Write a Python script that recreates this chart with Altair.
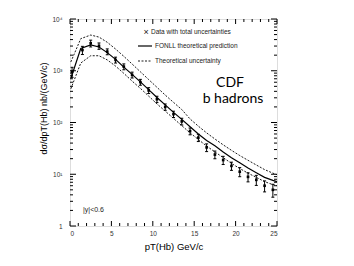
import altair as alt
import pandas as pd

# ---- data ----
pt_data = [0.25, 1.5, 2.5, 3.5, 4.5, 5.5, 6.5, 7.5, 8.5, 9.5, 10.5, 11.5, 12.5,
           13.5, 14.5, 15.5, 16.5, 17.5, 18.5, 19.5, 20.5, 21.5, 22.5, 23.5, 24.5]
xsec_data = [955, 2510, 3390, 3020, 2340, 1620, 1200, 832, 603, 417, 282, 200, 145,
             105, 68, 51, 33, 24, 18.8, 14.5, 11.2, 8.9, 7.8, 6.0, 5.0]
err_pct = [22, 18, 15, 14, 13, 13, 13, 13, 13, 13, 14, 14, 14,
           15, 15, 16, 17, 17, 18, 18, 20, 20, 22, 24, 28]

pt_theory = [0.1, 1.3, 2.5, 3.5, 4.5, 5.5, 6.5, 7.5, 8.5, 9.5, 10.5, 11.5, 12.5,
             13.5, 14.5, 15.5, 16.5, 17.5, 18.5, 19.5, 20.5, 21.5, 22.5, 23.5, 24.5, 25]
fonll = [708, 2690, 3160, 2880, 2240, 1660, 1175, 851, 610, 432, 305, 219, 157,
         115, 83, 60, 45, 35.5, 27, 20.9, 16.6, 13.2, 10.7, 8.7, 7.6, 7.2]
fonll_up = [1480, 4170, 4900, 4470, 3550, 2630, 1900, 1350, 955, 676, 479, 339, 245,
            178, 117, 85, 63, 48, 37, 29, 23, 18.6, 15.1, 12.3, 10.5, 9.8]
fonll_lo = [447, 1410, 1950, 1950, 1620, 1230, 891, 631, 457, 324, 229, 166, 120,
            87, 63, 47, 35, 27, 21, 16.2, 12.9, 10.5, 8.7, 7.2, 6.3, 6.0]

x_major = [0, 5, 10, 15, 20, 25]
x_minor = [v for v in range(0, 26) if v % 5 != 0]
y_major = [1, 10, 100, 1000, 10000]
y_minor = [m * 10 ** k for k in range(0, 4) for m in range(2, 10)]

W, H = 207, 207
FONT = "Liberation Sans"

data_df = pd.DataFrame({"pt": pt_data, "v": xsec_data, "e": err_pct})
data_df["lo"] = data_df["v"] * (1 - data_df["e"] / 100.0)
data_df["hi"] = data_df["v"] * (1 + data_df["e"] / 100.0)
theory_df = pd.DataFrame({"pt": pt_theory, "c": fonll, "u": fonll_up, "l": fonll_lo})

xscale = alt.Scale(domain=[0, 25], nice=False, zero=False)
yscale = alt.Scale(type="log", domain=[1, 10000], nice=False)

xaxis = alt.Axis(values=x_major, ticks=False, domain=False, grid=False,
                 title="pT(Hb) GeV/c", labelFont=FONT, labelFontSize=6.5,
                 labelColor="#333", labelPadding=4, titleFont=FONT,
                 titleFontSize=9.5, titleFontWeight="normal", titlePadding=5)
yaxis = alt.Axis(values=y_major, ticks=False, domain=False, grid=False,
                 labelExpr="datum.value == 1 ? '1' : datum.value == 10 ? '10¹' : datum.value == 100 ? '10²' : datum.value == 1000 ? '10³' : '10⁴'",
                 title="dσ/dpT(Hb) nb/(GeV/c)", labelFont=FONT, labelFontSize=6.5,
                 labelColor="#333", labelPadding=8, titleFont=FONT,
                 titleFontSize=9, titleFontWeight="normal", titlePadding=3, titleY=89)


def X(f):
    return alt.X(f, type="quantitative", scale=xscale, axis=xaxis)


def Y(f):
    return alt.Y(f, type="quantitative", scale=yscale, axis=yaxis)


base_t = alt.Chart(theory_df)
line_c = base_t.mark_line(color="black", strokeWidth=1.2).encode(x=X("pt"), y=Y("c"))
line_u = base_t.mark_line(color="black", strokeWidth=0.9, strokeDash=[2, 1.5]).encode(x=X("pt"), y=Y("u"))
line_l = base_t.mark_line(color="black", strokeWidth=0.9, strokeDash=[2, 1.5]).encode(x=X("pt"), y=Y("l"))

base_d = alt.Chart(data_df)
ebars = base_d.mark_rule(color="black", strokeWidth=1).encode(x=X("pt"), y=Y("lo"), y2="hi")
cap_lo = base_d.mark_point(shape="M-1,0L1,0", filled=False, size=9, strokeWidth=1,
                           color="black", opacity=1).encode(x=X("pt"), y=Y("lo"))
cap_hi = base_d.mark_point(shape="M-1,0L1,0", filled=False, size=9, strokeWidth=1,
                           color="black", opacity=1).encode(x=X("pt"), y=Y("hi"))
pts = base_d.mark_point(shape="square", filled=True, size=7, color="black",
                        opacity=1).encode(x=X("pt"), y=Y("v"))

# inward ticks on all four sides
xM = alt.Chart(pd.DataFrame({"t": x_major}))
xm = alt.Chart(pd.DataFrame({"t": x_minor}))
yM = alt.Chart(pd.DataFrame({"t": y_major}))
ym = alt.Chart(pd.DataFrame({"t": y_minor}))
tk = dict(color="black", strokeWidth=1)
ticks = [
    xM.mark_rule(**tk).encode(x=X("t"), y=alt.value(H), y2=alt.value(H - 5)),
    xM.mark_rule(**tk).encode(x=X("t"), y=alt.value(0), y2=alt.value(5)),
    xm.mark_rule(**tk).encode(x=X("t"), y=alt.value(H), y2=alt.value(H - 3)),
    xm.mark_rule(**tk).encode(x=X("t"), y=alt.value(0), y2=alt.value(3)),
    yM.mark_rule(**tk).encode(y=Y("t"), x=alt.value(0), x2=alt.value(6)),
    yM.mark_rule(**tk).encode(y=Y("t"), x=alt.value(W), x2=alt.value(W - 6)),
    ym.mark_rule(**tk).encode(y=Y("t"), x=alt.value(0), x2=alt.value(3)),
    ym.mark_rule(**tk).encode(y=Y("t"), x=alt.value(W), x2=alt.value(W - 3)),
]

one = alt.Data(values=[{}])


def label(txt, x, y, size=6.5, font=FONT, align="left"):
    return alt.Chart(one).mark_text(text=txt, x=x, y=y, fontSize=size, font=font,
                                    align=align, baseline="middle", color="#222")


legend = [
    label("×", 76, 13, size=9, align="center"),
    label("Data with total uncertainties", 81, 13),
    alt.Chart(one).mark_rule(color="black", strokeWidth=1.2).encode(
        x=alt.value(68), x2=alt.value(82), y=alt.value(27)),
    label("FONLL theoretical prediction", 85, 27),
    alt.Chart(one).mark_rule(color="black", strokeWidth=0.9, strokeDash=[2, 1.5]).encode(
        x=alt.value(68), x2=alt.value(82), y=alt.value(42)),
    label("Theoretical uncertainty", 85, 42),
    alt.Chart(one).mark_text(text="CDF", x=160, y=68, fontSize=14, font="Lato",
                             align="center", baseline="alphabetic", color="black"),
    alt.Chart(one).mark_text(text="b hadrons", x=163, y=84, fontSize=14, font="Lato",
                             align="center", baseline="alphabetic", color="black"),
    label("|y|<0.6", 13, 191, size=7),
]

chart = alt.layer(
    line_u, line_l, line_c, ebars, cap_lo, cap_hi, pts, *ticks, *legend
).properties(
    width=W, height=H,
    autosize=alt.AutoSizeParams(type="none"),
    padding={"left": 62, "top": 11, "right": 10, "bottom": 32},
).configure_view(stroke="black", strokeWidth=1.5).configure(background="white")

chart.save("out.html", embed_options={"renderer": "svg", "actions": False})
